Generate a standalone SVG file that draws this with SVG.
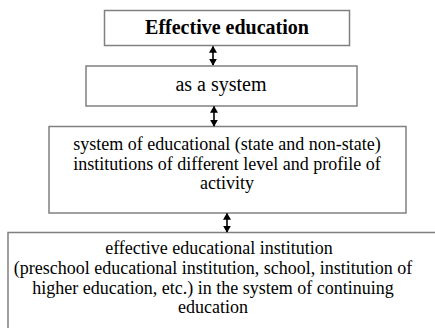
<svg xmlns="http://www.w3.org/2000/svg" width="435" height="328" viewBox="0 0 435 328">
<style>
.box{fill:#fff;stroke:#808080;stroke-width:1.5}
.t{font-family:'Liberation Serif','Times New Roman',serif;font-size:18px;fill:#000;text-anchor:middle}
.l{font-size:20px}
.b{font-weight:bold}
.c{stroke:#000;stroke-width:1.6;fill:none;marker-start:url(#ah);marker-end:url(#ah)}
</style>
<defs>
<marker id="ah" viewBox="0 0 10 10" refX="9" refY="5" markerWidth="7" markerHeight="8" preserveAspectRatio="none" markerUnits="userSpaceOnUse" orient="auto-start-reverse">
<path d="M0,0 L10,5 L0,10 z" fill="#000"/>
</marker>
</defs>
<rect width="435" height="328" fill="#fff"/>
<g id="n1"><rect class="box" x="104.5" y="10.5" width="245" height="35"/><text class="t l b" x="227" y="34">Effective education</text></g>
<g id="n2"><rect class="box" x="86" y="66" width="271" height="40"/><text class="t l" x="221" y="91">as a system</text></g>
<g id="n3"><rect class="box" x="49" y="126.5" width="357" height="86.5"/>
<text class="t" x="227" y="150">system of educational (state and non-state)</text>
<text class="t" x="227" y="170">institutions of different level and profile of</text>
<text class="t" x="227" y="189">activity</text></g>
<g id="n4"><rect class="box" x="8" y="232.5" width="440" height="110"/>
<text class="t" x="219" y="254">effective educational institution</text>
<text class="t" x="213" y="274">(preschool educational institution, school, institution of</text>
<text class="t" x="213" y="294">higher education, etc.) in the system of continuing</text>
<text class="t" x="213" y="313">education</text></g>
<g id="connectors">
<line class="c" x1="213" y1="46.5" x2="213" y2="65"/>
<line class="c" x1="214" y1="106.5" x2="214" y2="126"/>
<line class="c" x1="227" y1="213.5" x2="227" y2="232"/>
</g>
</svg>
